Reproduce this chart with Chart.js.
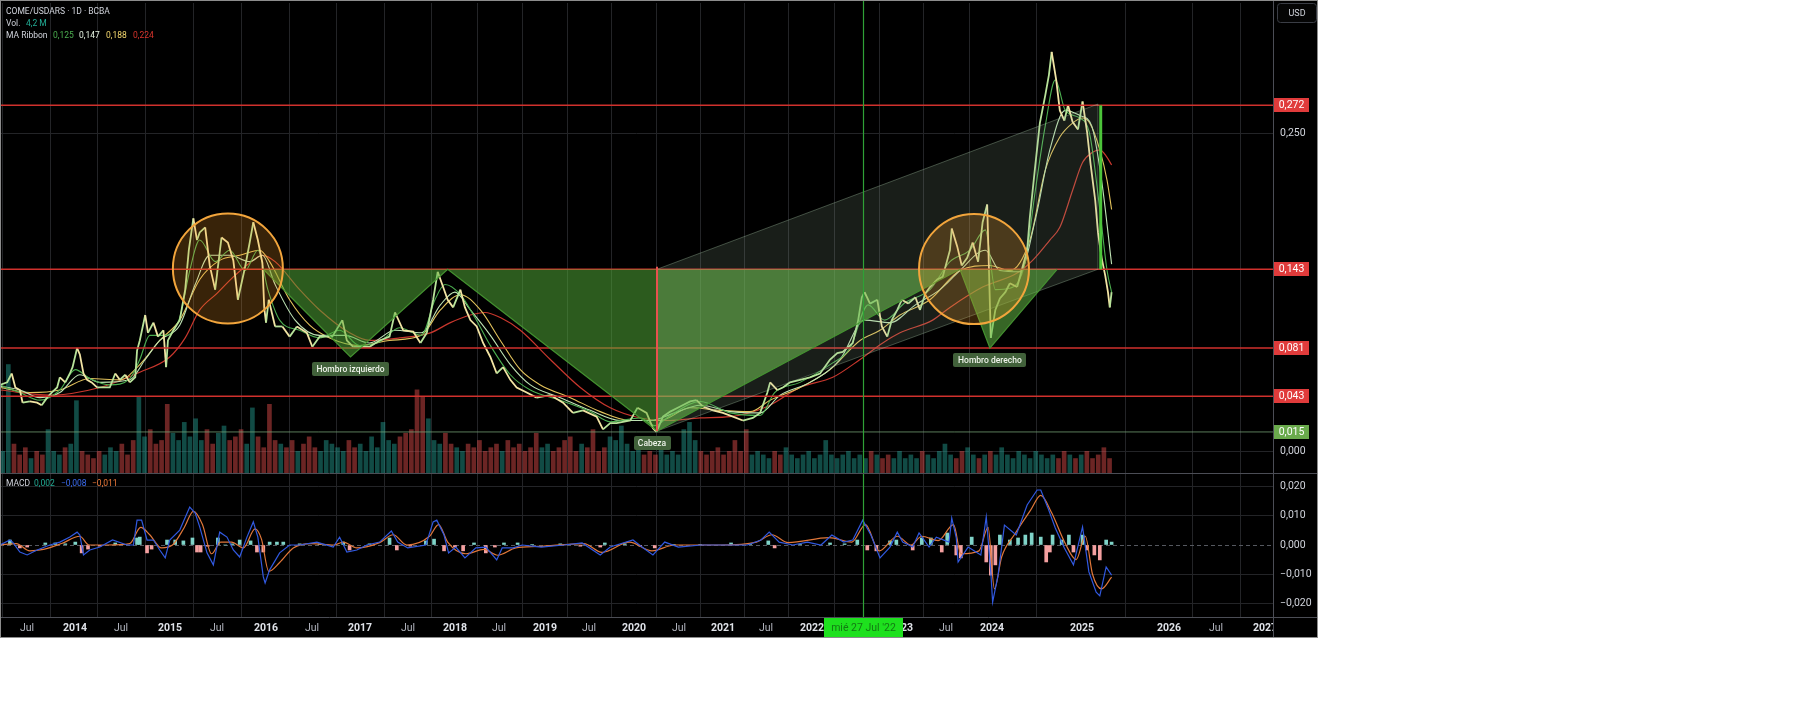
<!DOCTYPE html>
<html>
<head>
<meta charset="utf-8">
<script src="https://cdn.jsdelivr.net/npm/chart.js@4.4.1/dist/chart.umd.min.js"></script>
<style>
  html, body { margin: 0; padding: 0; background: #fff; }
  #frame { position: absolute; left: 0; top: 0; width: 1318px; height: 638px; background: #000; }
  #main { position: absolute; left: 0; top: 0; }
  #macd { position: absolute; left: 0; top: 473px; }
  #edge { position: absolute; left: 0; top: 0; width: 1318px; height: 638px; box-sizing: border-box;
          border: 1px solid #8c8c8c; pointer-events: none; }
</style>
</head>
<body>
<div id="frame">
  <canvas id="main" width="1318" height="473"></canvas>
  <canvas id="macd" width="1318" height="165"></canvas>
  <div id="edge"></div>
</div>
<script>
// ---- time axis (positions on the chart's trading-day time line, in years) ----
const timeTicks = [2013.368, 2013.897, 2014.403, 2014.943, 2015.460, 2016.000, 2016.506, 2017.035, 2017.563,
  2018.081, 2018.565, 2019.072, 2019.556, 2020.051, 2020.547, 2021.031, 2021.505, 2022.011, 2022.507,
  2022.991, 2023.487, 2023.993, 2024.984, 2025.942, 2026.459, 2027.000];
const timeTickLabels = ['Jul', '2014', 'Jul', '2015', 'Jul', '2016', 'Jul', '2017', 'Jul', '2018', 'Jul', '2019', 'Jul',
  '2020', 'Jul', '2021', 'Jul', '2022', 'Jul', '2023', 'Jul', '2024', '2025', '2026', 'Jul', '2027'];
const priceTicks = [0, 0.25];
const macdTicks = [-0.02, -0.01, 0, 0.01, 0.02];

// ---- price (daily closes, sampled) ----
const priceYears = [
  2013.07, 2013.15, 2013.20, 2013.24, 2013.29, 2013.32, 2013.40, 2013.48, 2013.53, 2013.59,
  2013.64, 2013.70, 2013.73, 2013.79, 2013.84, 2013.87, 2013.92, 2013.95, 2013.99, 2014.03,
  2014.08, 2014.14, 2014.21, 2014.28, 2014.34, 2014.39, 2014.45, 2014.50, 2014.56, 2014.58,
  2014.61, 2014.67, 2014.70, 2014.76, 2014.81, 2014.87, 2014.90, 2014.92, 2014.98, 2015.05,
  2015.11, 2015.15, 2015.20, 2015.24, 2015.27, 2015.33, 2015.38, 2015.44, 2015.51, 2015.58,
  2015.64, 2015.69, 2015.77, 2015.82, 2015.86, 2015.91, 2015.96, 2015.98, 2016.00, 2016.03,
  2016.10, 2016.18, 2016.26, 2016.34, 2016.45, 2016.51, 2016.59, 2016.73, 2016.84, 2016.89,
  2016.96, 2017.03, 2017.14, 2017.25, 2017.36, 2017.42, 2017.51, 2017.62, 2017.70, 2017.77,
  2017.84, 2017.89, 2017.95, 2018.00, 2018.06, 2018.14, 2018.19, 2018.25, 2018.32, 2018.39,
  2018.47, 2018.54, 2018.61, 2018.69, 2018.76, 2018.87, 2018.98, 2019.13, 2019.27, 2019.38,
  2019.49, 2019.64, 2019.71, 2019.79, 2019.86, 2020.01, 2020.09, 2020.19, 2020.26, 2020.30,
  2020.37, 2020.45, 2020.56, 2020.67, 2020.74, 2020.81, 2020.92, 2021.03, 2021.14, 2021.25,
  2021.36, 2021.44, 2021.52, 2021.55, 2021.63, 2021.69, 2021.77, 2021.88, 2021.99, 2022.10,
  2022.21, 2022.29, 2022.35, 2022.46, 2022.52, 2022.56, 2022.59, 2022.65, 2022.73, 2022.78,
  2022.84, 2022.89, 2022.95, 2023.00, 2023.07, 2023.15, 2023.20, 2023.26, 2023.31, 2023.39,
  2023.45, 2023.53, 2023.55, 2023.61, 2023.66, 2023.72, 2023.78, 2023.84, 2023.89, 2023.94,
  2023.96, 2023.98, 2024.03, 2024.08, 2024.14, 2024.19, 2024.27, 2024.33, 2024.38, 2024.41,
  2024.47, 2024.52, 2024.58, 2024.62, 2024.65, 2024.70, 2024.74, 2024.79, 2024.83, 2024.88,
  2024.94, 2024.99, 2025.04, 2025.08, 2025.13, 2025.16, 2025.20, 2025.24, 2025.27, 2025.29,
  2025.31];
const priceValues = [
  0.052, 0.054, 0.061, 0.050, 0.048, 0.038, 0.039, 0.038, 0.036, 0.042,
  0.046, 0.050, 0.058, 0.054, 0.061, 0.066, 0.081, 0.076, 0.061, 0.056,
  0.054, 0.050, 0.050, 0.050, 0.061, 0.056, 0.060, 0.054, 0.058, 0.079,
  0.087, 0.107, 0.093, 0.101, 0.090, 0.095, 0.066, 0.087, 0.095, 0.103,
  0.127, 0.158, 0.183, 0.166, 0.172, 0.176, 0.146, 0.127, 0.168, 0.164,
  0.150, 0.119, 0.145, 0.164, 0.180, 0.166, 0.148, 0.113, 0.101, 0.119,
  0.098, 0.098, 0.090, 0.098, 0.093, 0.082, 0.090, 0.090, 0.103, 0.087,
  0.082, 0.082, 0.082, 0.087, 0.090, 0.109, 0.095, 0.094, 0.085, 0.093,
  0.119, 0.141, 0.129, 0.119, 0.113, 0.127, 0.113, 0.103, 0.098, 0.085,
  0.074, 0.061, 0.066, 0.056, 0.050, 0.046, 0.042, 0.044, 0.038, 0.030,
  0.032, 0.027, 0.017, 0.022, 0.022, 0.024, 0.034, 0.030, 0.018, 0.015,
  0.027, 0.031, 0.035, 0.039, 0.040, 0.035, 0.032, 0.030, 0.027, 0.024,
  0.026, 0.030, 0.046, 0.054, 0.048, 0.050, 0.054, 0.056, 0.058, 0.061,
  0.072, 0.077, 0.078, 0.085, 0.103, 0.121, 0.125, 0.116, 0.119, 0.098,
  0.090, 0.103, 0.111, 0.119, 0.116, 0.121, 0.111, 0.124, 0.129, 0.135,
  0.137, 0.158, 0.175, 0.161, 0.146, 0.152, 0.164, 0.149, 0.180, 0.194,
  0.142, 0.089, 0.111, 0.120, 0.125, 0.132, 0.129, 0.145, 0.158, 0.184,
  0.225, 0.258, 0.280, 0.296, 0.314, 0.292, 0.268, 0.260, 0.272, 0.259,
  0.253, 0.275, 0.251, 0.225, 0.197, 0.172, 0.152, 0.138, 0.125, 0.113,
  0.125];

// ---- MA ribbon ----
const maRedYears = [2013.07, 2013.62, 2014.17, 2014.61, 2014.94, 2015.11, 2015.27, 2015.46, 2015.64, 2015.82,
  2015.96, 2016.10, 2016.37, 2016.59, 2016.92, 2017.14, 2017.47, 2017.81, 2018.03, 2018.25,
  2018.41, 2018.58, 2018.80, 2019.13, 2019.46, 2019.79, 2020.12, 2020.45, 2020.78, 2021.11,
  2021.52, 2021.88, 2022.24, 2022.54, 2022.79, 2022.98, 2023.34, 2023.53, 2023.89, 2024.27,
  2024.44, 2024.63, 2024.74, 2024.88, 2024.99, 2025.10, 2025.18, 2025.26, 2025.31];
const maRedValues = [0.048, 0.044, 0.050, 0.062, 0.074, 0.089, 0.111, 0.124, 0.137, 0.148,
  0.154, 0.149, 0.127, 0.111, 0.093, 0.087, 0.089, 0.093, 0.101, 0.107,
  0.109, 0.105, 0.095, 0.072, 0.050, 0.034, 0.026, 0.024, 0.026, 0.027,
  0.035, 0.050, 0.058, 0.072, 0.085, 0.093, 0.103, 0.113, 0.129, 0.140,
  0.150, 0.166, 0.176, 0.205, 0.227, 0.235, 0.237, 0.231, 0.225];

const maYellowYears = [2013.07, 2013.40, 2013.73, 2014.06, 2014.39, 2014.61, 2014.83, 2015.05, 2015.27, 2015.49,
  2015.71, 2015.93, 2016.04, 2016.26, 2016.48, 2016.70, 2017.03, 2017.36, 2017.71, 2017.92,
  2018.14, 2018.36, 2018.58, 2018.80, 2019.02, 2019.35, 2019.68, 2020.01, 2020.34, 2020.67,
  2021.00, 2021.33, 2021.55, 2021.88, 2022.21, 2022.54, 2022.76, 2022.98, 2023.31, 2023.64,
  2023.97, 2024.19, 2024.41, 2024.58, 2024.74, 2024.88, 2024.99, 2025.07, 2025.18, 2025.26,
  2025.31];
const maYellowValues = [0.050, 0.046, 0.048, 0.057, 0.056, 0.068, 0.087, 0.103, 0.135, 0.150,
  0.154, 0.158, 0.149, 0.119, 0.099, 0.089, 0.083, 0.087, 0.091, 0.111,
  0.123, 0.111, 0.087, 0.064, 0.052, 0.042, 0.031, 0.024, 0.024, 0.034,
  0.032, 0.031, 0.040, 0.050, 0.064, 0.087, 0.095, 0.107, 0.119, 0.142,
  0.146, 0.142, 0.166, 0.221, 0.247, 0.258, 0.262, 0.258, 0.237, 0.213,
  0.190];

const maLightYears = [2013.07, 2013.29, 2013.51, 2013.73, 2013.95, 2014.17, 2014.50, 2014.67, 2014.83, 2015.05,
  2015.22, 2015.38, 2015.60, 2015.82, 2015.96, 2016.10, 2016.32, 2016.59, 2016.87, 2017.14,
  2017.42, 2017.71, 2017.92, 2018.08, 2018.25, 2018.47, 2018.69, 2018.91, 2019.24, 2019.57,
  2019.90, 2020.23, 2020.50, 2020.78, 2021.11, 2021.44, 2021.66, 2021.99, 2022.32, 2022.59,
  2022.87, 2023.15, 2023.42, 2023.64, 2023.92, 2024.08, 2024.30, 2024.47, 2024.63, 2024.80,
  2024.96, 2025.09, 2025.20, 2025.31];
const maLightValues = [0.051, 0.048, 0.042, 0.046, 0.060, 0.054, 0.056, 0.072, 0.087, 0.099,
  0.131, 0.154, 0.154, 0.149, 0.154, 0.131, 0.103, 0.091, 0.091, 0.085,
  0.095, 0.093, 0.115, 0.125, 0.111, 0.091, 0.068, 0.052, 0.042, 0.032,
  0.024, 0.024, 0.030, 0.036, 0.031, 0.030, 0.044, 0.054, 0.072, 0.103,
  0.101, 0.115, 0.127, 0.142, 0.158, 0.142, 0.141, 0.182, 0.237, 0.268,
  0.264, 0.256, 0.213, 0.147];

const maGreenYears = [2013.07, 2013.29, 2013.51, 2013.73, 2013.90, 2014.06, 2014.28, 2014.50, 2014.61, 2014.72,
  2014.89, 2015.05, 2015.16, 2015.27, 2015.44, 2015.60, 2015.77, 2015.91, 2016.02, 2016.15,
  2016.37, 2016.59, 2016.81, 2017.03, 2017.25, 2017.47, 2017.71, 2017.86, 2017.97, 2018.14,
  2018.30, 2018.47, 2018.69, 2018.91, 2019.24, 2019.57, 2019.79, 2020.12, 2020.28, 2020.45,
  2020.78, 2021.11, 2021.44, 2021.60, 2021.88, 2022.21, 2022.43, 2022.63, 2022.81, 2023.04,
  2023.31, 2023.53, 2023.75, 2023.92, 2024.03, 2024.19, 2024.36, 2024.47, 2024.58, 2024.69,
  2024.80, 2024.96, 2025.07, 2025.18, 2025.26, 2025.31];
const maGreenValues = [0.052, 0.046, 0.040, 0.048, 0.064, 0.057, 0.052, 0.057, 0.072, 0.091,
  0.091, 0.105, 0.142, 0.166, 0.149, 0.158, 0.142, 0.158, 0.127, 0.103,
  0.095, 0.089, 0.095, 0.083, 0.086, 0.097, 0.091, 0.119, 0.131, 0.123,
  0.105, 0.083, 0.060, 0.048, 0.040, 0.031, 0.023, 0.026, 0.020, 0.028,
  0.039, 0.030, 0.028, 0.046, 0.054, 0.068, 0.081, 0.115, 0.103, 0.117,
  0.127, 0.149, 0.158, 0.174, 0.127, 0.128, 0.149, 0.205, 0.256, 0.292,
  0.268, 0.262, 0.249, 0.190, 0.142, 0.125];

// ---- volume (millions), one bar per period from volStart ----
const volStart = 2013.10;
const volStep = 0.0625;
const volumes = [
  6, 30, 8, 5, 7, 4, 6, 5, 12, 6,
  5, 7, 8, 20, 6, 5, 4, 6, 5, 7,
  6, 8, 5, 9, 21, 10, 12, 8, 9, 19,
  11, 9, 14, 10, 15, 9, 12, 8, 11, 13,
  9, 10, 12, 8, 18, 10, 7, 19, 9, 8,
  7, 9, 6, 8, 10, 7, 6, 9, 8, 7,
  6, 9, 7, 8, 6, 10, 7, 14, 9, 8,
  10, 11, 12, 23, 21, 15, 9, 8, 11, 8,
  7, 6, 8, 7, 9, 6, 7, 8, 6, 9,
  7, 8, 6, 7, 11, 7, 8, 6, 7, 9,
  10, 6, 8, 7, 12, 6, 7, 10, 9, 13,
  8, 6, 7, 5, 6, 5, 7, 5, 6, 5,
  12, 14, 9, 6, 5, 6, 7, 5, 6, 9,
  6, 12, 5, 6, 5, 4, 6, 5, 7, 5,
  4, 5, 6, 4, 5, 9, 5, 4, 5, 6,
  4, 5, 4, 6, 5, 4, 5, 4, 6, 4,
  5, 4, 6, 5, 4, 6, 8, 5, 4, 6,
  7, 5, 4, 5, 6, 5, 7, 5, 4, 6,
  5, 4, 6, 5, 4, 5, 4, 6, 5, 4,
  5, 6, 4, 5, 7, 4];

// ---- MACD ----
const macdYears = [
  2013.07, 2013.18, 2013.21, 2013.29, 2013.37, 2013.48, 2013.62, 2013.73, 2013.84, 2013.92,
  2013.95, 2013.99, 2014.06, 2014.17, 2014.31, 2014.47, 2014.54, 2014.58, 2014.63, 2014.69,
  2014.76, 2014.83, 2014.89, 2014.94, 2015.05, 2015.16, 2015.22, 2015.27, 2015.35, 2015.42,
  2015.49, 2015.57, 2015.64, 2015.71, 2015.79, 2015.86, 2015.91, 2015.97, 2015.99, 2016.04,
  2016.15, 2016.26, 2016.37, 2016.56, 2016.74, 2016.81, 2016.89, 2017.00, 2017.11, 2017.25,
  2017.38, 2017.45, 2017.56, 2017.76, 2017.84, 2017.88, 2017.96, 2018.01, 2018.09, 2018.19,
  2018.31, 2018.42, 2018.54, 2018.60, 2018.72, 2018.82, 2019.03, 2019.28, 2019.48, 2019.68,
  2019.79, 2020.04, 2020.14, 2020.26, 2020.39, 2020.54, 2020.79, 2021.10, 2021.30, 2021.45,
  2021.54, 2021.65, 2021.80, 2021.96, 2022.11, 2022.23, 2022.36, 2022.46, 2022.57, 2022.66,
  2022.76, 2022.87, 2022.95, 2023.01, 2023.12, 2023.19, 2023.30, 2023.38, 2023.52, 2023.55,
  2023.60, 2023.62, 2023.73, 2023.87, 2023.93, 2023.98, 2024.00, 2024.06, 2024.13, 2024.26,
  2024.38, 2024.49, 2024.53, 2024.61, 2024.69, 2024.79, 2024.89, 2024.99, 2025.06, 2025.14,
  2025.18, 2025.25, 2025.31];
const macdValues = [
  0.0000, 0.0017, 0.0010, -0.0024, -0.0034, -0.0017, 0.0000, 0.0010, 0.0027, 0.0044,
  0.0034, -0.0034, -0.0017, -0.0007, 0.0017, 0.0000, 0.0000, 0.0085, 0.0085, 0.0017,
  0.0017, -0.0017, -0.0044, 0.0017, 0.0051, 0.0130, 0.0109, 0.0062, -0.0027, -0.0068,
  0.0044, 0.0027, -0.0017, -0.0041, 0.0027, 0.0079, 0.0027, -0.0109, -0.0130, -0.0085,
  -0.0027, 0.0000, 0.0000, 0.0010, -0.0007, 0.0027, -0.0024, -0.0017, 0.0000, 0.0010,
  0.0048, 0.0010, -0.0010, 0.0000, 0.0079, 0.0085, 0.0034, -0.0027, -0.0007, -0.0044,
  -0.0010, -0.0007, -0.0051, -0.0010, -0.0010, 0.0000, -0.0007, 0.0000, 0.0007, -0.0034,
  -0.0007, 0.0017, -0.0007, -0.0034, 0.0010, -0.0007, 0.0000, 0.0000, 0.0000, 0.0017,
  0.0044, 0.0010, 0.0000, 0.0010, 0.0000, 0.0034, 0.0010, 0.0017, 0.0085, 0.0034,
  -0.0044, -0.0007, 0.0044, 0.0010, -0.0007, 0.0041, -0.0007, 0.0027, 0.0010, 0.0092,
  0.0024, -0.0058, -0.0007, -0.0034, 0.0096, -0.0092, -0.0195, -0.0103, 0.0068, 0.0034,
  0.0137, 0.0188, 0.0188, 0.0126, 0.0058, -0.0010, -0.0068, 0.0062, -0.0092, -0.0161,
  -0.0174, -0.0075, -0.0103];

const signalYears = [
  2013.07, 2013.25, 2013.40, 2013.55, 2013.75, 2013.95, 2014.05, 2014.25, 2014.50, 2014.62,
  2014.72, 2014.85, 2014.97, 2015.10, 2015.20, 2015.30, 2015.40, 2015.50, 2015.62, 2015.75,
  2015.88, 2015.95, 2016.03, 2016.15, 2016.30, 2016.50, 2016.75, 2016.85, 2017.00, 2017.25,
  2017.40, 2017.55, 2017.80, 2017.90, 2018.00, 2018.20, 2018.40, 2018.55, 2018.75, 2019.00,
  2019.50, 2019.70, 2020.00, 2020.25, 2020.50, 2021.00, 2021.40, 2021.57, 2021.75, 2022.20,
  2022.45, 2022.60, 2022.75, 2022.95, 2023.10, 2023.22, 2023.40, 2023.57, 2023.65, 2023.85,
  2023.95, 2024.02, 2024.10, 2024.25, 2024.42, 2024.53, 2024.65, 2024.80, 2024.92, 2025.02,
  2025.10, 2025.20, 2025.31];
const signalValues = [
  0.0000, 0.0005, -0.0020, -0.0015, 0.0005, 0.0030, 0.0000, 0.0000, 0.0005, 0.0060,
  0.0035, -0.0010, 0.0000, 0.0060, 0.0115, 0.0070, -0.0030, 0.0010, 0.0010, -0.0010,
  0.0055, 0.0020, -0.0090, -0.0060, -0.0010, 0.0005, 0.0000, 0.0010, -0.0010, 0.0008,
  0.0035, 0.0000, 0.0030, 0.0070, 0.0010, -0.0030, -0.0015, -0.0035, -0.0010, -0.0005,
  0.0005, -0.0025, 0.0010, -0.0020, 0.0000, 0.0000, 0.0010, 0.0035, 0.0008, 0.0025,
  0.0010, 0.0070, -0.0020, 0.0030, 0.0000, 0.0030, 0.0015, 0.0070, -0.0030, -0.0020,
  0.0060, -0.0150, -0.0040, 0.0040, 0.0120, 0.0170, 0.0110, 0.0005, -0.0050, 0.0030,
  -0.0100, -0.0150, -0.0110];

const histYears = [
  2013.18, 2013.29, 2013.37, 2013.57, 2013.68, 2013.79, 2013.90, 2013.97, 2014.04, 2014.17,
  2014.34, 2014.58, 2014.61, 2014.69, 2014.74, 2014.91, 2015.00, 2015.09, 2015.19, 2015.24,
  2015.28, 2015.36, 2015.47, 2015.55, 2015.63, 2015.71, 2015.83, 2015.90, 2015.97, 2016.04,
  2016.12, 2016.19, 2016.37, 2016.59, 2016.85, 2016.92, 2017.14, 2017.36, 2017.44, 2017.59,
  2017.76, 2017.85, 2017.96, 2018.08, 2018.17, 2018.29, 2018.42, 2018.52, 2018.62, 2018.77,
  2018.93, 2019.24, 2019.46, 2019.68, 2019.73, 2019.95, 2020.12, 2020.28, 2020.49, 2020.78,
  2021.12, 2021.33, 2021.53, 2021.60, 2021.88, 2022.21, 2022.37, 2022.51, 2022.62, 2022.72,
  2022.87, 2022.94, 2023.12, 2023.22, 2023.32, 2023.44, 2023.50, 2023.60, 2023.65, 2023.77,
  2023.93, 2023.98, 2024.03, 2024.08, 2024.19, 2024.28, 2024.36, 2024.43, 2024.53, 2024.59,
  2024.63, 2024.66, 2024.76, 2024.84, 2024.89, 2024.99, 2025.04, 2025.12, 2025.18, 2025.25,
  2025.31];
const histValues = [
  0.0017, -0.0010, -0.0007, 0.0007, 0.0007, 0.0004, 0.0010, -0.0027, -0.0014, -0.0004,
  0.0007, 0.0024, 0.0027, -0.0027, -0.0014, 0.0017, 0.0017, 0.0014, 0.0024, -0.0024,
  -0.0024, -0.0004, 0.0024, 0.0000, 0.0004, 0.0017, 0.0014, -0.0024, -0.0024, 0.0010,
  0.0010, 0.0010, 0.0004, 0.0004, 0.0010, -0.0017, 0.0004, 0.0024, -0.0017, -0.0004,
  0.0014, 0.0020, -0.0020, -0.0007, -0.0020, 0.0007, -0.0027, -0.0007, 0.0007, 0.0007,
  0.0002, 0.0004, -0.0004, -0.0007, 0.0007, 0.0004, -0.0004, -0.0010, 0.0002, 0.0002,
  0.0007, 0.0002, 0.0014, -0.0010, 0.0002, 0.0007, 0.0004, 0.0017, -0.0017, -0.0020,
  0.0014, 0.0017, -0.0017, 0.0024, 0.0024, -0.0024, 0.0041, -0.0034, -0.0044, 0.0027,
  -0.0058, -0.0103, -0.0068, 0.0034, 0.0017, 0.0024, 0.0034, 0.0041, 0.0027, -0.0058,
  -0.0024, 0.0034, 0.0017, 0.0034, -0.0024, 0.0034, -0.0017, -0.0034, -0.0051, 0.0017,
  0.0010];

// ---- drawings ----
const redLevels = [0.272, 0.143, 0.081, 0.043];
const greenLevel = 0.015;
// head & shoulders: start, L shoulder, neck, head, neck, R shoulder, end
const patternYears = [2015.97, 2016.93, 2018.00, 2020.305, 2023.64, 2023.97, 2024.71];
const patternPrices = [0.143, 0.074, 0.143, 0.0157, 0.143, 0.081, 0.143];
const patternLabels = ['Hombro izquierdo', 'Cabeza', 'Hombro derecho'];
const bandYears = [2020.305, 2025.16, 2025.16, 2020.305];
const bandPrices = [0.143, 0.273, 0.143, 0.0157];
const targetYear = 2025.19;
const targetPrices = [0.272, 0.143];
const circleYears = [2015.58, 2023.795];
const circlePrices = [0.1436, 0.1432];
const circleRadiusYears = 0.6055;
const circleRadiusPrice = 0.0433;
const crossYear = 2022.57;
const crossLabel = 'mié 27 Jul \'22';

const X_MIN = 2013.071, X_MAX = 2027.087;
const PRICE_MIN = -0.0173, PRICE_MAX = 0.3525;
const MACD_LIM = 0.02462;

const FONT = "Roboto, 'Open Sans', sans-serif";
const GRID = '#232427';
const AXIS_LINE = '#4b4d55';
const TEXT = '#d1d4dc';
const UP = '#b8e39a', DOWN = '#f2e4a4';

Chart.defaults.font.family = FONT;

const fmt = v => (v < 0 ? '\u2212' : '') + Math.abs(v).toFixed(3).replace('.', ',');
const pts = (xs, ys) => xs.map((x, i) => ({ x: x, y: ys[i] }));

function priceAt(t) {
  if (t <= priceYears[0]) return priceValues[0];
  for (let i = 1; i < priceYears.length; i++) {
    if (t <= priceYears[i]) {
      const f = (t - priceYears[i - 1]) / (priceYears[i] - priceYears[i - 1]);
      return priceValues[i - 1] + f * (priceValues[i] - priceValues[i - 1]);
    }
  }
  return priceValues[priceValues.length - 1];
}

const volData = volumes.map((v, i) => ({ x: volStart + i * volStep, y: v }));
const volColors = volData.map(d => priceAt(d.x) >= priceAt(d.x - volStep)
  ? 'rgba(38,166,154,0.45)' : 'rgba(239,83,80,0.45)');

function setTimeTicks(s) { s.ticks = timeTicks.map(v => ({ value: v })); }
// keep the plot area exactly where the layout puts it (no label padding)
function noPad(s) { s.paddingTop = 0; s.paddingBottom = 0; s.paddingLeft = 0; s.paddingRight = 0; }
const isYear = i => timeTickLabels[i] !== 'Jul';

function boxLabel(ctx, text, cx, cy, w, h, fill, color) {
  ctx.fillStyle = fill;
  ctx.fillRect(Math.round(cx - w / 2), Math.round(cy - h / 2), w, h);
  ctx.fillStyle = color;
  ctx.textAlign = 'center';
  ctx.textBaseline = 'middle';
  ctx.fillText(text, cx, cy + 0.5);
}

const drawings = {
  id: 'drawings',
  afterDatasetsDraw(chart) {
    const { ctx, chartArea: a, scales } = chart;
    const X = v => scales.x.getPixelForValue(v);
    const Y = v => scales.y.getPixelForValue(v);
    ctx.save();
    ctx.beginPath();
    ctx.rect(a.left, a.top, a.right - a.left, a.bottom - a.top);
    ctx.clip();

    // horizontal levels
    ctx.lineWidth = 1.5;
    ctx.strokeStyle = '#d0312d';
    redLevels.forEach(l => {
      ctx.beginPath(); ctx.moveTo(a.left, Y(l)); ctx.lineTo(a.right, Y(l)); ctx.stroke();
    });
    ctx.lineWidth = 1;
    ctx.strokeStyle = 'rgba(120,165,120,0.75)';
    ctx.beginPath(); ctx.moveTo(a.left, Y(greenLevel)); ctx.lineTo(a.right, Y(greenLevel)); ctx.stroke();

    const poly = (list, fill, stroke) => {
      ctx.beginPath();
      list.forEach((p, i) => i ? ctx.lineTo(X(p[0]), Y(p[1])) : ctx.moveTo(X(p[0]), Y(p[1])));
      ctx.closePath();
      ctx.fillStyle = fill; ctx.fill();
      if (stroke) { ctx.strokeStyle = stroke; ctx.lineWidth = 1; ctx.stroke(); }
    };

    // projection band
    poly(bandYears.map((t, i) => [t, bandPrices[i]]), 'rgba(150,175,150,0.17)', 'rgba(170,200,170,0.35)');

    // head & shoulders fills
    const P = patternYears.map((t, i) => [t, patternPrices[i]]);
    const neck = patternPrices[0];
    const GREEN = 'rgba(85,175,57,0.52)';
    poly([P[0], P[1], P[2]], GREEN);
    poly([P[2], [P[3][0], neck], P[3]], GREEN);
    poly([[P[3][0], neck], P[3], P[4]], 'rgba(112,192,82,0.58)');
    poly([P[4], P[5], P[6]], 'rgba(100,185,70,0.55)');
    ctx.beginPath();
    P.forEach((p, i) => i ? ctx.lineTo(X(p[0]), Y(p[1])) : ctx.moveTo(X(p[0]), Y(p[1])));
    ctx.strokeStyle = 'rgba(70,150,50,0.95)';
    ctx.lineWidth = 1.2;
    ctx.stroke();

    // head depth and target
    ctx.strokeStyle = '#e8514e';
    ctx.lineWidth = 2;
    ctx.beginPath(); ctx.moveTo(X(P[3][0]), Y(neck + 0.002)); ctx.lineTo(X(P[3][0]), Y(P[3][1])); ctx.stroke();
    ctx.strokeStyle = '#4cc43a';
    ctx.lineWidth = 3;
    ctx.beginPath(); ctx.moveTo(X(targetYear), Y(targetPrices[0])); ctx.lineTo(X(targetYear), Y(targetPrices[1])); ctx.stroke();

    // circles
    circleYears.forEach((t, i) => {
      const cx = X(t), cy = Y(circlePrices[i]);
      const rx = X(t + circleRadiusYears) - cx;
      const ry = cy - Y(circlePrices[i] + circleRadiusPrice);
      ctx.beginPath();
      ctx.ellipse(cx, cy, rx, ry, 0, 0, Math.PI * 2);
      ctx.fillStyle = 'rgba(255,160,40,0.22)';
      ctx.fill();
      ctx.strokeStyle = '#f2a53c';
      ctx.lineWidth = 2;
      ctx.stroke();
    });
    ctx.restore();

    // pattern labels
    ctx.save();
    ctx.font = '500 8.5px ' + FONT;
    [P[1], P[3], P[5]].forEach((p, i) => {
      const w = Math.round(ctx.measureText(patternLabels[i]).width) + 9;
      const cx = X(p[0]) - (i === 1 ? 5 : 0);
      const cy = Y(p[1]) + 12;
      ctx.fillStyle = '#41613a';
      ctx.beginPath();
      ctx.roundRect(Math.round(cx - w / 2), Math.round(cy - 7), w, 14, 2);
      ctx.fill();
      ctx.fillStyle = '#eef3ea';
      ctx.textAlign = 'center';
      ctx.textBaseline = 'middle';
      ctx.fillText(patternLabels[i], cx, cy + 0.5);
    });
    ctx.restore();

    // crosshair line
    ctx.save();
    ctx.strokeStyle = '#2fa136';
    ctx.lineWidth = 1.2;
    const cxl = Math.round(X(crossYear)) + 0.5;
    ctx.beginPath(); ctx.moveTo(cxl, 0); ctx.lineTo(cxl, chart.height); ctx.stroke();
    ctx.restore();
  },
  afterDraw(chart) {
    const { ctx, chartArea: a, scales } = chart;
    const Y = v => scales.y.getPixelForValue(v);
    ctx.save();
    ctx.font = '10.5px ' + FONT;
    redLevels.forEach(l => boxLabel(ctx, fmt(l), a.right + 18.5, Math.round(Y(l)), 35, 14, '#e03b3b', '#ffffff'));
    boxLabel(ctx, fmt(greenLevel), a.right + 18.5, Math.round(Y(greenLevel)), 35, 14, '#6aaa4c', '#ffffff');

    // USD button
    ctx.fillStyle = '#050505';
    ctx.strokeStyle = '#3a3d45';
    ctx.lineWidth = 1;
    ctx.beginPath(); ctx.roundRect(a.right + 4.5, 3.5, 39, 19, 3); ctx.fill(); ctx.stroke();
    ctx.fillStyle = TEXT;
    ctx.font = '9px ' + FONT;
    ctx.textAlign = 'center'; ctx.textBaseline = 'middle';
    ctx.fillText('USD', a.right + 24, 13.5);

    // legend
    ctx.textAlign = 'left';
    ctx.font = '8.5px ' + FONT;
    const put = (t, x, y, c) => { ctx.fillStyle = c; ctx.fillText(t, x, y); };
    put('COME/USDARS \u00b7 1D \u00b7 BCBA', 6, 12, TEXT);
    put('Vol.', 6, 24, TEXT);
    put('4,2 M', 26, 24, '#22ab94');
    put('MA Ribbon', 6, 36, TEXT);
    put('0,125', 53, 36, '#4caf50');
    put('0,147', 79, 36, '#e3f2e0');
    put('0,188', 106, 36, '#f5d86e');
    put('0,224', 133, 36, '#d9342c');

    // right axis border
    ctx.strokeStyle = AXIS_LINE;
    ctx.beginPath(); ctx.moveTo(a.right + 0.5, 0); ctx.lineTo(a.right + 0.5, chart.height); ctx.stroke();
    ctx.restore();
  }
};

new Chart(document.getElementById('main'), {
  type: 'line',
  data: {
    datasets: [
      { type: 'bar', data: volData, yAxisID: 'v', backgroundColor: volColors, barThickness: 4, order: 10 },
      { data: pts(maRedYears, maRedValues), borderColor: '#c8372d', borderWidth: 1.2, pointRadius: 0,
        cubicInterpolationMode: 'monotone', order: 5 },
      { data: pts(maYellowYears, maYellowValues), borderColor: '#e3c35c', borderWidth: 1.1, pointRadius: 0,
        cubicInterpolationMode: 'monotone', order: 4 },
      { data: pts(maLightYears, maLightValues), borderColor: '#bfe3b4', borderWidth: 1.1, pointRadius: 0,
        cubicInterpolationMode: 'monotone', order: 3 },
      { data: pts(maGreenYears, maGreenValues), borderColor: '#4caf50', borderWidth: 1.1, pointRadius: 0,
        cubicInterpolationMode: 'monotone', order: 2 },
      { data: pts(priceYears, priceValues), borderColor: DOWN, borderWidth: 1.8, pointRadius: 0, order: 1,
        segment: { borderColor: c => c.p1.parsed.y >= c.p0.parsed.y ? UP : DOWN } }
    ]
  },
  options: {
    responsive: false,
    animation: false,
    events: [],
    layout: { padding: { top: 3, left: 0, right: 0, bottom: 0 }, autoPadding: false },
    plugins: { legend: { display: false }, tooltip: { enabled: false } },
    scales: {
      x: {
        type: 'linear', min: X_MIN, max: X_MAX, offset: false,
        grid: { color: GRID, drawTicks: false },
        border: { display: false },
        ticks: { display: false },
        afterBuildTicks: setTimeTicks,
        afterFit: s => { s.height = 0; noPad(s); }
      },
      y: {
        position: 'right', min: PRICE_MIN, max: PRICE_MAX,
        grid: { color: GRID, drawTicks: false },
        border: { display: false },
        ticks: { color: TEXT, padding: 7, font: { size: 10.5 }, callback: v => fmt(v) },
        afterBuildTicks: s => { s.ticks = priceTicks.map(v => ({ value: v })); },
        afterFit: s => { s.width = 45; noPad(s); }
      },
      v: { display: false, min: 0, max: 130 }
    }
  },
  plugins: [drawings]
});

const macdOverlay = {
  id: 'macdOverlay',
  beforeDatasetsDraw(chart) {
    const { ctx, chartArea: a, scales } = chart;
    const y0 = Math.round(scales.y.getPixelForValue(0)) + 0.5;
    ctx.save();
    ctx.strokeStyle = '#55585f';
    ctx.setLineDash([4, 3]);
    ctx.lineWidth = 1;
    ctx.beginPath(); ctx.moveTo(a.left, y0); ctx.lineTo(a.right, y0); ctx.stroke();
    ctx.restore();
  },
  afterDraw(chart) {
    const { ctx, chartArea: a, scales } = chart;
    const cx = Math.round(scales.x.getPixelForValue(crossYear)) + 0.5;
    ctx.save();
    ctx.strokeStyle = '#2fa136';
    ctx.lineWidth = 1.2;
    ctx.beginPath(); ctx.moveTo(cx, 0); ctx.lineTo(cx, a.bottom); ctx.stroke();

    // time labels stop at the price axis
    ctx.fillStyle = '#000';
    ctx.fillRect(a.right, a.bottom + 1, chart.width - a.right, chart.height - a.bottom);

    // pane separators and axis border
    ctx.strokeStyle = AXIS_LINE;
    ctx.lineWidth = 1;
    ctx.beginPath(); ctx.moveTo(0, 0.5); ctx.lineTo(chart.width, 0.5); ctx.stroke();
    ctx.beginPath(); ctx.moveTo(0, a.bottom + 0.5); ctx.lineTo(chart.width, a.bottom + 0.5); ctx.stroke();
    ctx.beginPath(); ctx.moveTo(a.right + 0.5, 0); ctx.lineTo(a.right + 0.5, chart.height); ctx.stroke();

    // crosshair date label
    ctx.font = '10.5px ' + FONT;
    const w = Math.round(ctx.measureText(crossLabel).width) + 14;
    boxLabel(ctx, crossLabel, cx, a.bottom + 10.5, w, 20, '#1ee01e', '#137a13');

    // legend
    ctx.font = '8.5px ' + FONT;
    ctx.textAlign = 'left';
    ctx.textBaseline = 'middle';
    const put = (t, x, c) => { ctx.fillStyle = c; ctx.fillText(t, x, 11); };
    put('MACD', 6, TEXT);
    put(fmt(0.002), 34, '#22ab94');
    put(fmt(-0.008), 61, '#3b6cf0');
    put(fmt(-0.011), 92, '#f07b3a');
    ctx.restore();
  }
};

new Chart(document.getElementById('macd'), {
  type: 'line',
  data: {
    datasets: [
      { type: 'bar', data: pts(histYears, histValues), barThickness: 3, order: 3,
        backgroundColor: c => (c.raw && c.raw.y >= 0) ? '#7fd3c8' : '#f4a0a0' },
      { data: pts(signalYears, signalValues), borderColor: '#e0773a', borderWidth: 1.2, pointRadius: 0,
        cubicInterpolationMode: 'monotone', order: 2 },
      { data: pts(macdYears, macdValues), borderColor: '#3159e0', borderWidth: 1.2, pointRadius: 0, order: 1 }
    ]
  },
  options: {
    responsive: false,
    animation: false,
    events: [],
    layout: { padding: { top: 0, left: 0, right: 0, bottom: 0 }, autoPadding: false },
    plugins: { legend: { display: false }, tooltip: { enabled: false } },
    scales: {
      x: {
        type: 'linear', min: X_MIN, max: X_MAX, offset: false,
        grid: { color: GRID, drawTicks: false },
        border: { display: false },
        ticks: {
          autoSkip: false, maxRotation: 0, minRotation: 0, padding: 5,
          color: c => isYear(c.index) ? '#dfe2e8' : '#b2b5be',
          font: c => ({ size: 10.5, weight: isYear(c.index) ? 'bold' : 'normal' }),
          callback: (v, i) => timeTickLabels[i]
        },
        afterBuildTicks: setTimeTicks,
        afterFit: s => { s.height = 21; noPad(s); }
      },
      y: {
        position: 'right', min: -MACD_LIM, max: MACD_LIM,
        grid: { color: c => (c.tick && c.tick.value === 0) ? 'rgba(0,0,0,0)' : GRID, drawTicks: false },
        border: { display: false },
        ticks: { color: TEXT, padding: 7, font: { size: 10.5 }, callback: v => fmt(v) },
        afterBuildTicks: s => { s.ticks = macdTicks.map(v => ({ value: v })); },
        afterFit: s => { s.width = 45; noPad(s); }
      }
    }
  },
  plugins: [macdOverlay]
});
</script>
</body>
</html>
